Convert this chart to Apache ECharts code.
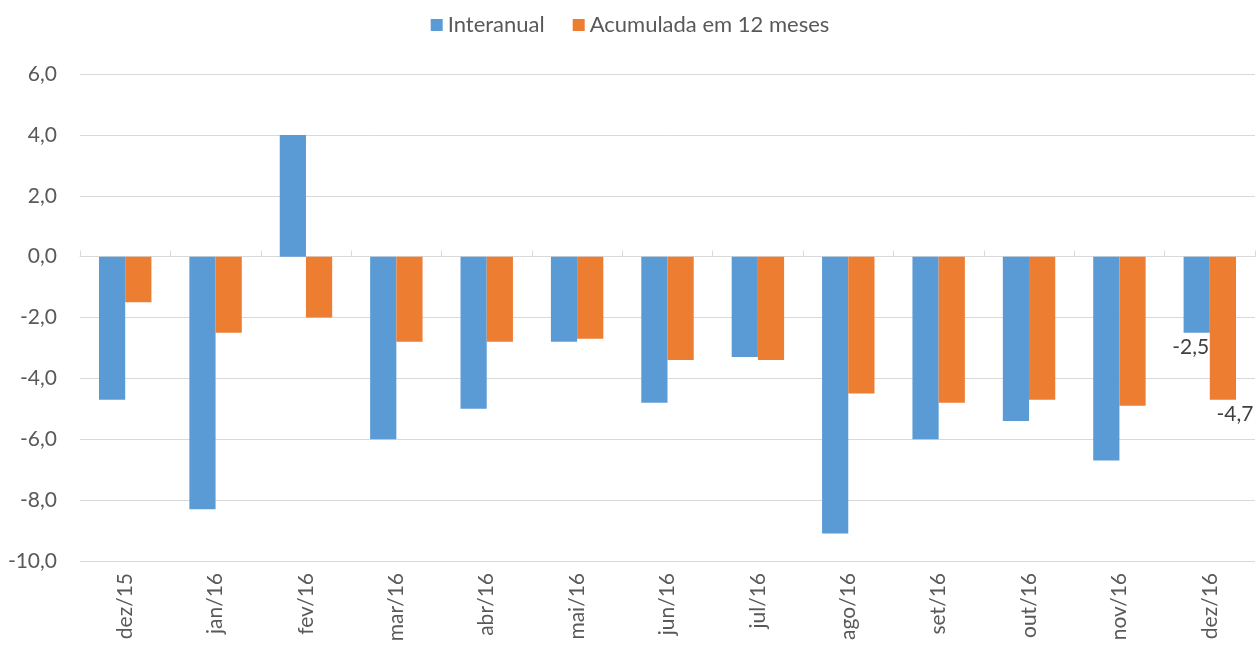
<!DOCTYPE html>
<html>
<head>
<meta charset="utf-8">
<script src="https://cdn.jsdelivr.net/npm/echarts@6/dist/echarts.min.js"></script>
<style>
    html, body { margin: 0; padding: 0; background: #fff; }
    #container { width: 1260px; height: 646px; }
</style>
</head>
<body>
<div id="container"></div>
<script>
// categorias e séries
var categorias = ['dez/15', 'jan/16', 'fev/16', 'mar/16', 'abr/16', 'mai/16', 'jun/16',
    'jul/16', 'ago/16', 'set/16', 'out/16', 'nov/16', 'dez/16'];
var interanual = [-4.7, -8.3, 4.0, -6.0, -5.0, -2.8, -4.8, -3.3, -9.1, -6.0, -5.4, -6.7, -2.5];
var acumulada = [-1.5, -2.5, -2.0, -2.8, -2.8, -2.7, -3.4, -3.4, -4.5, -4.8, -4.7, -4.9, -4.7];
var nomesSeries = ['Interanual', 'Acumulada em 12 meses'];

var fonte = 'Lato, "Open Sans", sans-serif';

function virgula(v) {
    return v.toFixed(1).replace('.', ',');
}

// só o último ponto tem rótulo
function rotuloUltimo(offsetX) {
    return {
        show: true,
        position: 'bottom',
        distance: 4,
        offset: [offsetX, 0],
        color: '#404040',
        fontFamily: fonte,
        fontSize: 21,
        formatter: function (p) {
            if (p.dataIndex == categorias.length - 1) {
                return virgula(p.value);
            }
            return '';
        }
    };
}

var chart = echarts.init(document.getElementById('container'));
var option = {
    animation: false,
    color: ['#5b9bd5', '#ed7d31'],
    legend: {
        data: nomesSeries,
        top: 9,
        left: 'center',
        itemWidth: 12,
        itemHeight: 12,
        itemGap: 28,
        icon: 'rect',
        textStyle: {
            color: '#595959',
            fontFamily: fonte,
            fontSize: 22
        }
    },
    grid: {
        left: 80,
        right: 5,
        top: 74,
        bottom: 85
    },
    xAxis: [{
        type: 'category',
        data: categorias,
        axisLine: {
            onZero: true,
            lineStyle: { color: '#d9d9d9', width: 1 }
        },
        axisTick: {
            show: true,
            inside: true,
            length: 6,
            lineStyle: { color: '#d9d9d9' }
        },
        axisLabel: { show: false },
        splitLine: { show: false }
    }, {
        type: 'category',
        data: categorias,
        position: 'bottom',
        axisLine: { show: false, onZero: false },
        axisTick: { show: false },
        axisLabel: {
            rotate: 90,
            margin: 12,
            color: '#595959',
            fontFamily: fonte,
            fontSize: 21
        }
    }],
    yAxis: {
        type: 'value',
        min: -10,
        max: 6,
        interval: 2,
        axisLine: { show: false },
        axisTick: { show: false },
        axisLabel: {
            margin: 23,
            color: '#595959',
            fontFamily: fonte,
            fontSize: 21,
            formatter: virgula
        },
        splitLine: {
            lineStyle: { color: '#d9d9d9', width: 1 }
        }
    },
    series: [{
        name: nomesSeries[0],
        type: 'bar',
        xAxisIndex: 0,
        data: interanual,
        barGap: '0%',
        barCategoryGap: '42%',
        label: rotuloUltimo(-6)
    }, {
        name: nomesSeries[1],
        type: 'bar',
        xAxisIndex: 0,
        data: acumulada,
        barGap: '0%',
        barCategoryGap: '42%',
        label: rotuloUltimo(12)
    }]
};
chart.setOption(option);
</script>
</body>
</html>
